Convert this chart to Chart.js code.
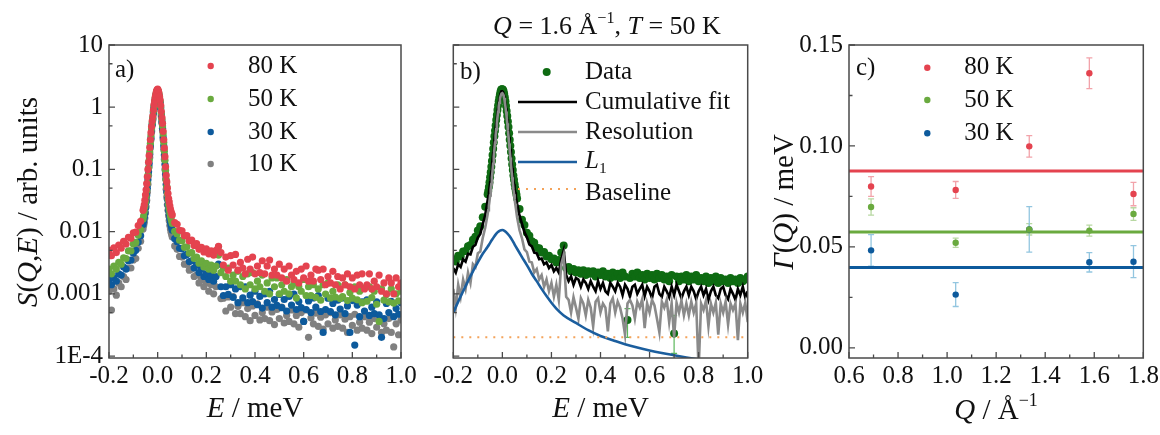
<!DOCTYPE html>
<html><head><meta charset="utf-8">
<script src="https://cdn.jsdelivr.net/npm/chart.js@4.4.1/dist/chart.umd.min.js"></script>
<style>
html,body{margin:0;padding:0;background:#fff;}
#wrap{position:relative;width:1160px;height:435px;overflow:hidden;background:#fff;}
canvas{position:absolute;top:0;}
</style></head><body>
<div id="wrap">
<canvas id="ca" width="430" height="435" style="left:0px"></canvas>
<canvas id="cb" width="370" height="435" style="left:415px"></canvas>
<canvas id="cc" width="400" height="435" style="left:760px"></canvas>
</div>
<script>
// ---------------- DATA ----------------
const energy = [
-0.20,-0.19,-0.18,-0.17,-0.16,-0.15,-0.14,-0.13,-0.12,-0.11,-0.10,-0.09,-0.08,-0.07,-0.06,
-0.0575,-0.055,-0.0525,-0.05,-0.0475,-0.045,-0.0425,-0.04,-0.0375,-0.035,-0.0325,-0.03,-0.0275,-0.025,-0.0225,-0.02,-0.0175,-0.015,-0.0125,-0.01,-0.0075,-0.005,-0.0025,
0,0.0025,0.005,0.0075,0.01,0.0125,0.015,0.0175,0.02,0.0225,0.025,0.0275,0.03,0.0325,0.035,0.0375,0.04,0.0425,0.045,0.0475,0.05,0.0525,0.055,0.0575,
0.06,0.07,0.08,0.09,0.10,0.11,0.12,0.13,0.14,0.15,
0.16,0.17,0.18,0.19,0.20,0.21,0.22,0.23,0.24,0.25,
0.26,0.27,0.28,0.29,0.30,0.31,0.32,0.33,0.34,0.35,
0.36,0.37,0.38,0.39,0.40,0.41,0.42,0.43,0.44,0.45,
0.46,0.47,0.48,0.49,0.50,0.51,0.52,0.53,0.54,0.55,
0.56,0.57,0.58,0.59,0.60,0.61,0.62,0.63,0.64,0.65,
0.66,0.67,0.68,0.69,0.70,0.71,0.72,0.73,0.74,0.75,
0.76,0.77,0.78,0.79,0.80,0.81,0.82,0.83,0.84,0.85,
0.86,0.87,0.88,0.89,0.90,0.91,0.92,0.93,0.94,0.95,
0.96,0.97,0.98,0.99,1.00];

const tempLabels = ['80 K','50 K','30 K','10 K'];

// panel a) S(Q,E) at four temperatures
const a80 = [
0.0050,0.0041,0.0055,0.0046,0.0061,0.0054,0.0070,0.0063,0.0081,0.0078,0.0096,0.0098,0.0125,0.0146,0.022,
0.024,0.027,0.032,0.039,0.047,0.059,0.076,0.10,0.13,0.166,0.225,0.30,0.39,0.49,0.6,0.72,0.9,1.1,1.27,1.45,1.63,1.8,1.9,
1.95,1.85,1.7,1.5,1.3,1.07,0.85,0.68,0.55,0.41,0.30,0.22,0.16,0.11,0.08,0.063,0.05,0.041,0.034,0.03,0.026,0.023,0.021,0.0195,
0.0185,0.0140,0.0131,0.0105,0.0103,0.0086,0.0086,0.0071,0.0073,0.0060,
0.0064,0.0052,0.0056,0.0047,0.0053,0.0044,0.0049,0.0042,0.0050,0.0058,
0.0046,0.0029,0.0039,0.0024,0.0041,0.0029,0.0043,0.0024,0.0032,0.0026,
0.0021,0.0036,0.0025,0.0039,0.0021,0.0028,0.0022,0.0034,0.0021,0.0028,
0.0035,0.0020,0.0025,0.0020,0.0030,0.0018,0.0025,0.0016,0.0028,0.0020,
0.0017,0.0023,0.0015,0.0025,0.0018,0.0028,0.0016,0.0020,0.0016,0.0025,
0.0024,0.0017,0.0025,0.0014,0.0019,0.0015,0.0023,0.0014,0.0019,0.0012,
0.0018,0.0014,0.0021,0.0013,0.0018,0.0012,0.0020,0.0014,0.0021,0.0012,
0.0014,0.0021,0.0012,0.0016,0.0013,0.0020,0.0011,0.0015,0.0010,0.0018,
0.0015,0.0010,0.0018,0.0013,0.0015];
const a50 = [
0.0025,0.0021,0.0028,0.0025,0.0032,0.0030,0.0038,0.0037,0.0049,0.0049,0.0063,0.0067,0.0088,0.0107,0.016,
0.018,0.021,0.025,0.030,0.037,0.046,0.06,0.080,0.105,0.14,0.19,0.26,0.35,0.45,0.56,0.68,0.86,1.05,1.22,1.4,1.58,1.75,1.85,
1.9,1.8,1.65,1.45,1.25,1.02,0.80,0.64,0.50,0.37,0.27,0.195,0.14,0.097,0.068,0.053,0.041,0.033,0.027,0.023,0.020,0.018,0.016,0.0148,
0.0135,0.0101,0.0092,0.0073,0.0071,0.0056,0.0057,0.0045,0.0046,0.0037,
0.0039,0.0031,0.0034,0.0027,0.0031,0.0025,0.0029,0.0024,0.0028,0.0042,
0.0022,0.0026,0.0019,0.0026,0.0016,0.0020,0.0016,0.0023,0.0014,0.0019,
0.0012,0.0021,0.0014,0.0022,0.0012,0.0016,0.0013,0.0020,0.0011,0.0015,
0.0010,0.0018,0.0013,0.0018,0.0010,0.0014,0.0011,0.0017,0.0010,0.0013,
0.0015,0.00086,0.0013,0.0011,0.0017,0.00094,0.0013,0.00094,0.0014,0.00088,
0.0012,0.00079,0.0014,0.00099,0.0015,0.00086,0.0011,0.00089,0.0014,0.00084,
0.0009,0.0014,0.00078,0.00105,0.00085,0.0013,0.0008,0.0011,0.00072,0.00125,
0.00076,0.0013,0.00087,0.0011,0.00068,0.00036,0.0012,0.00079,0.00098,0.00074,
0.0012,0.00071,0.0010,0.00077,0.0011];
const a30 = [
0.0017,0.0014,0.0018,0.0016,0.0021,0.0020,0.0027,0.0025,0.0034,0.0035,0.0045,0.0050,0.0068,0.0086,0.013,
0.015,0.017,0.02,0.024,0.03,0.038,0.05,0.068,0.092,0.125,0.175,0.24,0.32,0.42,0.53,0.65,0.82,1.0,1.17,1.35,1.53,1.7,1.8,
1.85,1.75,1.6,1.4,1.2,0.97,0.75,0.59,0.46,0.33,0.24,0.17,0.12,0.083,0.057,0.043,0.033,0.027,0.022,0.019,0.016,0.014,0.0125,0.0115,
0.0105,0.0077,0.0069,0.0054,0.0053,0.0041,0.0043,0.0033,0.0034,0.0026,
0.0029,0.0022,0.0025,0.0019,0.0021,0.0017,0.0020,0.0016,0.0019,0.0030,
0.0013,0.00094,0.0013,0.00098,0.0014,0.00088,0.0012,0.00072,0.0013,0.00086,
0.0013,0.00072,0.00095,0.00075,0.0011,0.00067,0.00091,0.00059,0.0010,0.00072,
0.0011,0.00061,0.00081,0.00065,0.00098,0.0006,0.00081,0.00053,0.00091,0.00066,
0.00099,0.00056,0.00075,0.0006,0.00036,0.00056,0.00077,0.0005,0.00086,0.00061,
0.00094,0.00052,0.00024,0.00056,0.00085,0.00052,0.0007,0.00046,0.00079,0.00057,
0.00086,0.00048,0.00064,0.00024,0.00078,0.00015,0.00066,0.00043,0.00074,0.00053,
0.0008,0.00045,0.00061,0.00048,0.00074,0.00046,0.0002,0.0004,0.0007,0.0005,
0.00076,0.00043,0.00058,0.00047,0.00072];
const a10 = [
0.0011,0.00055,0.0012,0.00095,0.0015,0.0013,0.0019,0.0017,0.0026,0.0026,0.0035,0.0037,0.0054,0.0070,0.011,
0.0125,0.014,0.0165,0.020,0.025,0.032,0.043,0.058,0.08,0.11,0.155,0.22,0.3,0.40,0.51,0.62,0.78,0.95,1.12,1.3,1.48,1.65,1.75,
1.8,1.7,1.55,1.35,1.15,0.9,0.70,0.55,0.42,0.3,0.21,0.145,0.10,0.07,0.048,0.036,0.027,0.022,0.018,0.015,0.0125,0.011,0.0098,0.009,
0.0082,0.0059,0.0052,0.0040,0.0039,0.0030,0.0030,0.0024,0.0025,0.0019,
0.0020,0.0015,0.0017,0.0013,0.0015,0.0011,0.0014,0.0010,0.0013,0.0057,
0.00084,0.00085,0.00053,0.00089,0.00061,0.0009,0.00048,0.00063,0.00048,0.00072,
0.00043,0.00058,0.00037,0.00064,0.00045,0.00069,0.00038,0.0005,0.0004,0.00061,
0.00037,0.00051,0.00032,0.00056,0.0004,0.00061,0.00034,0.00045,0.00036,0.00055,
0.00033,0.00045,0.00029,0.0005,0.00036,0.00055,0.0002,0.00041,0.00033,0.00049,
0.0003,0.00042,0.00027,0.00046,0.00033,0.0005,0.00028,0.00038,0.0003,0.00046,
0.00028,0.00039,0.00024,0.00043,0.00031,0.00047,0.00026,0.00035,0.00028,0.00043,
0.00026,0.00035,0.00023,0.0004,0.00029,0.00043,0.00024,0.00033,0.00026,0.0004,
0.00024,0.00014,0.00033,0.00022,0.00038];

// panel b) Q = 1.6, T = 50 K
const bLabels = ['Data','Cumulative fit','Resolution','L1','Baseline'];
const bData = [
0.0036,0.0033,0.0041,0.0040,0.0048,0.0049,0.0058,0.0061,0.0074,0.0083,0.0104,0.0122,0.017,0.025,0.040,
0.045,0.052,0.062,0.075,0.09,0.11,0.137,0.17,0.215,0.27,0.34,0.42,0.51,0.62,0.75,0.9,1.07,1.25,1.42,1.6,1.77,1.9,1.95,
1.95,1.9,1.8,1.63,1.45,1.25,1.05,0.87,0.72,0.59,0.48,0.38,0.30,0.24,0.19,0.15,0.12,0.098,0.08,0.068,0.058,0.05,0.044,0.039,
0.034,0.023,0.0155,0.0128,0.0096,0.0086,0.0070,0.0066,0.0055,0.0054,
0.0046,0.0047,0.0040,0.0041,0.0036,0.0037,0.0032,0.0035,0.0046,0.0060,
0.0026,0.0027,0.0023,0.0025,0.0022,0.0024,0.0021,0.0024,0.0020,0.0023,
0.0021,0.0023,0.0019,0.0022,0.0020,0.0023,0.0019,0.0021,0.0018,0.0022,
0.0019,0.0021,0.0018,0.0022,0.0019,0.00038,0.0018,0.0021,0.0019,0.0022,
0.0018,0.0020,0.0017,0.0021,0.0018,0.0020,0.0017,0.0021,0.0018,0.0020,
0.0017,0.0019,0.0016,0.0020,0.00023,0.0019,0.0016,0.0019,0.0017,0.0020,
0.0016,0.0019,0.0017,0.0020,0.0016,0.0018,0.0016,0.0019,0.0015,0.0018,
0.0016,0.0019,0.0015,0.0018,0.0016,0.0017,0.0015,0.0018,0.0016,0.0017,
0.0015,0.0018,0.0016,0.0017,0.0019];
const bFit = [
0.0026,0.0022,0.0030,0.0027,0.0036,0.0033,0.0044,0.0043,0.0057,0.0061,0.0080,0.0092,0.0132,0.0185,0.032,
0.037,0.043,0.051,0.062,0.075,0.092,0.115,0.145,0.183,0.23,0.29,0.37,0.455,0.56,0.68,0.82,0.98,1.15,1.33,1.5,1.64,1.75,1.8,
1.8,1.75,1.65,1.5,1.32,1.13,0.95,0.78,0.64,0.52,0.42,0.33,0.26,0.21,0.165,0.13,0.105,0.085,0.069,0.058,0.05,0.043,0.037,0.032,
0.028,0.0180,0.0133,0.0098,0.0081,0.0062,0.0058,0.0046,0.0045,0.0036,
0.0037,0.0030,0.0032,0.0026,0.0029,0.0023,0.0026,0.0022,0.0036,0.0050,
0.0020,0.0016,0.0019,0.0014,0.0018,0.0017,0.0013,0.0017,0.0015,0.0012,
0.0016,0.0013,0.0011,0.0016,0.0012,0.0015,0.0011,0.0010,0.0015,0.0013,
0.0011,0.0015,0.0013,0.00095,0.0014,0.0012,0.0009,0.0013,0.0014,0.0010,
0.0012,0.0014,0.00092,0.0013,0.0011,0.00085,0.0013,0.0014,0.0010,0.0009,
0.0013,0.0011,0.00088,0.0013,0.00095,0.0014,0.0011,0.00085,0.0011,0.0013,
0.00095,0.0013,0.0011,0.00082,0.0011,0.0013,0.00095,0.0012,0.0008,0.0011,
0.0013,0.00095,0.00085,0.0012,0.0013,0.00095,0.00082,0.0012,0.0010,0.0008,
0.0012,0.00095,0.0013,0.00088,0.0011];
const bRes = [
0.0012,0.0006,0.0014,0.0009,0.0017,0.0012,0.0022,0.0015,0.0030,0.0027,0.0045,0.0048,0.0079,0.0115,0.019,
0.022,0.026,0.031,0.038,0.047,0.058,0.074,0.095,0.123,0.16,0.21,0.27,0.35,0.44,0.55,0.68,0.84,1.0,1.18,1.35,1.5,1.6,1.66,
1.68,1.64,1.55,1.4,1.2,1.02,0.85,0.69,0.55,0.43,0.34,0.26,0.2,0.155,0.12,0.095,0.075,0.06,0.048,0.04,0.033,0.028,0.024,0.02,
0.017,0.0105,0.0078,0.0052,0.0047,0.0033,0.0032,0.0022,0.0025,0.0017,
0.0020,0.0013,0.0017,0.0011,0.0015,0.0009,0.0014,0.0008,0.0030,0.0042,
0.0009,0.0008,0.0005,0.00088,0.0006,0.0004,0.00085,0.0007,0.00045,0.0008,
0.0006,0.0003,0.00075,0.00085,0.0005,0.0007,0.0006,0.00025,0.0007,0.00085,
0.0005,0.00075,0.0006,0.0004,0.00022,0.0007,0.0008,0.00065,0.0004,0.00075,
0.0006,0.00082,0.00028,0.0007,0.0005,0.0008,0.00065,0.0004,0.00024,0.00075,
0.0006,0.0008,0.00035,0.0007,0.0002,0.00072,0.0005,0.00078,0.00045,0.0007,
0.00045,0.00075,0.0005,0.0007,0.00006,0.0007,0.00055,0.00078,0.0003,0.0007,
0.0005,0.00072,0.00022,0.0007,0.0005,0.00075,0.00032,0.0007,0.00055,0.0007,
0.00018,0.0007,0.0005,0.00072,0.00035];
const l1Energy = [-0.20,-0.18,-0.16,-0.14,-0.12,-0.10,-0.08,-0.06,-0.05,-0.04,-0.03,-0.02,-0.01,0,
0.01,0.02,0.03,0.04,0.05,0.06,0.08,0.10,0.12,0.14,0.16,0.18,0.20,0.22,0.25,0.30,0.35,0.40,0.45,0.50,
0.55,0.60,0.65,0.70,0.75,0.80,0.85,0.90,0.95,1.00];
const l1Values = [0.0005,0.00075,0.0011,0.0016,0.0023,0.0032,0.0044,0.0057,0.0066,0.0076,0.0087,0.0097,0.0104,0.0106,
0.0102,0.0094,0.0084,0.0073,0.0062,0.0053,0.0039,0.0029,0.0021,0.0016,0.0012,0.00092,0.00072,0.00058,0.00045,0.00034,0.00026,0.00021,0.00018,0.000155,
0.000137,0.000123,0.000112,0.000103,0.000095,0.000088,0.000082,0.000077,0.000072,0.000068];
const baseEnergy = [-0.2, 1.0];
const baseValues = [0.0002, 0.0002];
const bErrEnergy = [0.51, 0.70];
const bErrLow = [0.0002, 0.00011];
const bErrHigh = [0.00058, 0.00045];

// panel c) Gamma(Q)
const cQ = [0.69, 1.035, 1.335, 1.58, 1.76];
const c80 = [0.0799, 0.0782, 0.0998, 0.1360, 0.0762];
const c80err = [0.0049, 0.0042, 0.0053, 0.0076, 0.0058];
const c50 = [0.0698, 0.0521, 0.0587, 0.0581, 0.0663];
const c50err = [0.0040, 0.0023, 0.0028, 0.0027, 0.0031];
const c30 = [0.0483, 0.0264, 0.0587, 0.0424, 0.0427];
const c30err = [0.0078, 0.0059, 0.0113, 0.0048, 0.0079];
const cTempLabels = ['80 K','50 K','30 K'];
const cMeanGamma = [0.0876, 0.0574, 0.0398];

// ticks
const eTicks = [-0.2, 0, 0.2, 0.4, 0.6, 0.8, 1.0];
const eMinor = [-0.1, 0.1, 0.3, 0.5, 0.7, 0.9];
const sTicks = [1e-4, 1e-3, 1e-2, 1e-1, 1, 10];
const sTickLabels = ['1E-4', '0.001', '0.01', '0.1', '1', '10'];
const sMinor = [5e-4, 5e-3, 5e-2, 0.5, 5];
const qTicks = [0.6, 0.8, 1.0, 1.2, 1.4, 1.6, 1.8];
const qMinor = [0.7, 0.9, 1.1, 1.3, 1.5, 1.7];
const gTicks = [0, 0.05, 0.10, 0.15];
const gMinor = [0.025, 0.075, 0.125];

[a80, a50, a30, a10, bData, bFit, bRes].forEach((arr, k) => {
  if (arr.length !== energy.length) throw new Error('length mismatch ' + k + ': ' + arr.length + ' vs ' + energy.length);
});

// ---------------- STYLE ----------------
const FONT = "'Liberation Serif','Times New Roman',serif";
const AXIS = '#4a4a4a';
const TXT = '#111';
const COL = { r: '#e4434f', g: '#6aaa3f', b: '#0d5a9c', k: '#808080' };
Chart.defaults.font.family = FONT;
Chart.defaults.color = TXT;

function pts(xs, ys) { return xs.map((x, i) => ({ x: x, y: ys[i] })); }

function richText(ctx, segs, x, y, size, align, rot) {
  ctx.save();
  ctx.translate(x, y);
  ctx.rotate(rot || 0);
  ctx.fillStyle = TXT;
  ctx.textBaseline = 'middle';
  ctx.textAlign = 'left';
  const parts = segs.map(s => {
    const st = (s[1] || '').split(' ');
    const small = st.includes('sup') || st.includes('sub');
    const sz = small ? size * 0.62 : size;
    const f = (st.includes('i') ? 'italic ' : '') + sz + 'px ' + FONT;
    ctx.font = f;
    return { t: s[0], f: f, w: ctx.measureText(s[0]).width,
             dy: st.includes('sup') ? -size * 0.32 : (st.includes('sub') ? size * 0.3 : 0) };
  });
  const total = parts.reduce((a, p) => a + p.w, 0);
  let cx = align === 'center' ? -total / 2 : (align === 'right' ? -total : 0);
  parts.forEach(p => { ctx.font = p.f; ctx.fillText(p.t, cx, p.dy); cx += p.w; });
  ctx.restore();
}

function decoPlugin(spec) {
  return {
    id: 'deco',
    afterDatasetsDraw(chart) {
      const ctx = chart.ctx, a = chart.chartArea, xs = chart.scales.x, ys = chart.scales.y;
      ctx.save();
      ctx.strokeStyle = AXIS;
      ctx.lineWidth = 1.3;
      ctx.beginPath();
      const tick = (vals, len, horiz) => vals.forEach(v => {
        if (horiz) { const p = xs.getPixelForValue(v); ctx.moveTo(p, a.bottom); ctx.lineTo(p, a.bottom - len); }
        else { const p = ys.getPixelForValue(v); ctx.moveTo(a.left, p); ctx.lineTo(a.left + len, p); }
      });
      tick(spec.xMajor, 6, true); tick(spec.xMinor, 3.5, true);
      tick(spec.yMajor, 6, false); tick(spec.yMinor, 3.5, false);
      ctx.stroke();
      ctx.lineWidth = 1.5;
      ctx.strokeRect(a.left, a.top, a.right - a.left, a.bottom - a.top);
      ctx.restore();
      if (spec.draw) spec.draw(chart, ctx);
    }
  };
}

const errorBars = {
  id: 'errorBars',
  beforeDatasetsDraw(chart) {
    const ctx = chart.ctx, xs = chart.scales.x, ys = chart.scales.y;
    chart.data.datasets.forEach(ds => {
      if (!ds.errValues) return;
      ctx.save();
      ctx.strokeStyle = ds.errorColor;
      ctx.lineWidth = 1.3;
      ctx.beginPath();
      ds.data.forEach((p, j) => {
        const x = xs.getPixelForValue(p.x);
        const y1 = ys.getPixelForValue(p.y - ds.errValues[j]);
        const y2 = ys.getPixelForValue(p.y + ds.errValues[j]);
        ctx.moveTo(x, y1); ctx.lineTo(x, y2);
        ctx.moveTo(x - 3, y1); ctx.lineTo(x + 3, y1);
        ctx.moveTo(x - 3, y2); ctx.lineTo(x + 3, y2);
      });
      ctx.stroke();
      ctx.restore();
    });
  }
};

function axes(o) {
  return {
    x: {
      type: 'linear', min: o.xmin, max: o.xmax,
      grid: { display: false, drawTicks: false }, border: { display: false },
      ticks: { font: { size: 25, family: FONT }, color: TXT, padding: o.xpad, autoSkip: false, maxRotation: 0, minRotation: 0,
               callback: o.xcb },
      afterBuildTicks: s => { s.ticks = o.xticks.map(v => ({ value: v })); },
      afterFit: s => { s.height = 435 - 358; s.paddingLeft = 0; s.paddingRight = 0; }
    },
    y: {
      type: o.ylog ? 'logarithmic' : 'linear', min: o.ymin, max: o.ymax,
      grid: { display: false, drawTicks: false }, border: { display: false },
      ticks: { display: o.ylabels, font: { size: 25, family: FONT }, color: TXT, padding: 6, autoSkip: false,
               callback: o.ycb },
      afterBuildTicks: s => { s.ticks = o.yticks.map(v => ({ value: v })); },
      afterFit: s => { s.width = o.ywidth; s.paddingTop = 0; s.paddingBottom = 0; }
    }
  };
}

function baseOpts(padRight, sc) {
  return {
    responsive: false, animation: false, devicePixelRatio: 1,
    layout: { padding: { left: 0, right: padRight, top: 45, bottom: 0 } },
    plugins: { legend: { display: false }, tooltip: { enabled: false } },
    scales: sc
  };
}

// ---------------- PANEL A ----------------
const aSeries = [a80, a50, a30, a10];
const aColors = [COL.r, COL.g, COL.b, COL.k];
new Chart(document.getElementById('ca'), {
  type: 'scatter',
  data: {
    datasets: aSeries.map((arr, i) => ({
      label: tempLabels[i], data: pts(energy, arr),
      backgroundColor: aColors[i], borderWidth: 0, pointRadius: 3.6, pointHoverRadius: 3.6
    }))
  },
  options: baseOpts(29, axes({
    xmin: -0.2, xmax: 1.0, xticks: eTicks, xpad: 3, xcb: v => v.toFixed(1),
    ylog: true, ymin: 9.3e-5, ymax: 10, yticks: sTicks, ylabels: true, ywidth: 109,
    ycb: (v, i) => sTickLabels[i]
  })),
  plugins: [decoPlugin({
    xMajor: eTicks, xMinor: eMinor, yMajor: sTicks, yMinor: sMinor,
    draw(chart, ctx) {
      ctx.save();
      ctx.font = '25px ' + FONT; ctx.fillStyle = TXT; ctx.textBaseline = 'middle'; ctx.textAlign = 'left';
      ctx.fillText('a)', 115, 70);
      const ly = [66, 99, 132, 164];
      chart.data.datasets.forEach((ds, i) => {
        ctx.fillStyle = ds.backgroundColor;
        ctx.beginPath(); ctx.arc(210.7, ly[i], 3.2, 0, Math.PI * 2); ctx.fill();
        ctx.fillStyle = TXT; ctx.fillText(ds.label, 248, ly[i]);
      });
      ctx.restore();
      richText(ctx, [['S', 'i'], ['(', ''], ['Q', 'i'], [',', ''], ['E', 'i'], [') / arb. units', '']], 29, 202, 29, 'center', -Math.PI / 2);
      richText(ctx, [['E', 'i'], [' / meV', '']], 255, 409, 29, 'center', 0);
    }
  })]
});

// ---------------- PANEL B ----------------
new Chart(document.getElementById('cb'), {
  type: 'scatter',
  data: {
    datasets: [
      { label: bLabels[4], data: pts(baseEnergy, baseValues), showLine: true, borderColor: '#f4a35a',
        borderWidth: 2, borderDash: [2, 6], pointRadius: 0, order: 1 },
      { label: bLabels[3], data: pts(l1Energy, l1Values), showLine: true, borderColor: '#1b5e9e',
        borderWidth: 2.6, pointRadius: 0, cubicInterpolationMode: 'monotone', order: 2 },
      { label: bLabels[2], data: pts(energy, bRes), showLine: true, borderColor: '#8a8a8a',
        borderWidth: 2.6, pointRadius: 0, order: 3 },
      { label: bLabels[1], data: pts(energy, bFit), showLine: true, borderColor: '#000',
        borderWidth: 2.6, pointRadius: 0, order: 4 },
      { label: bLabels[0], data: pts(energy, bData), backgroundColor: '#0e6b12', borderWidth: 0,
        pointRadius: 4, pointHoverRadius: 4, order: 5 }
    ]
  },
  options: baseOpts(370 - 332.7, axes({
    xmin: -0.2, xmax: 1.0, xticks: eTicks, xpad: 3, xcb: v => v.toFixed(1),
    ylog: true, ymin: 9.3e-5, ymax: 10, yticks: sTicks, ylabels: false, ywidth: 38.3,
    ycb: () => ''
  })),
  plugins: [{
    id: 'bErr',
    beforeDatasetsDraw(chart) {
      const ctx = chart.ctx, xs = chart.scales.x, ys = chart.scales.y;
      ctx.save(); ctx.strokeStyle = '#5cb85c'; ctx.lineWidth = 1.2; ctx.beginPath();
      bErrEnergy.forEach((e, j) => {
        const x = xs.getPixelForValue(e), y1 = ys.getPixelForValue(bErrLow[j]), y2 = ys.getPixelForValue(bErrHigh[j]);
        ctx.moveTo(x, y1); ctx.lineTo(x, y2);
        ctx.moveTo(x - 3, y1); ctx.lineTo(x + 3, y1);
        ctx.moveTo(x - 3, y2); ctx.lineTo(x + 3, y2);
      });
      ctx.stroke(); ctx.restore();
    }
  }, decoPlugin({
    xMajor: eTicks, xMinor: eMinor, yMajor: sTicks, yMinor: sMinor,
    draw(chart, ctx) {
      const ds = chart.data.datasets;
      ctx.save();
      ctx.font = '25px ' + FONT; ctx.fillStyle = TXT; ctx.textBaseline = 'middle'; ctx.textAlign = 'left';
      ctx.fillText('b)', 45, 72);
      ctx.fillStyle = ds[4].backgroundColor;
      ctx.beginPath(); ctx.arc(131.7, 72, 4, 0, Math.PI * 2); ctx.fill();
      ctx.fillStyle = TXT; ctx.fillText(ds[4].label, 170, 72);
      const line = (y, d) => {
        ctx.save(); ctx.strokeStyle = d.borderColor; ctx.lineWidth = d.borderWidth;
        if (d.borderDash) ctx.setLineDash(d.borderDash);
        ctx.beginPath(); ctx.moveTo(103, y); ctx.lineTo(162, y); ctx.stroke(); ctx.restore();
      };
      line(102, ds[3]); ctx.fillText(ds[3].label, 170, 102);
      line(132, ds[2]); ctx.fillText(ds[2].label, 170, 132);
      line(162, ds[1]);
      line(189, ds[0]); ctx.fillText(ds[0].label, 170, 193);
      ctx.restore();
      richText(ctx, [['L', 'i'], ['1', 'sub']], 170, 161, 25, 'left', 0);
      richText(ctx, [['E', 'i'], [' / meV', '']], 185.5, 409, 29, 'center', 0);
      richText(ctx, [['Q', 'i'], [' = 1.6 Å', ''], ['\u22121', 'sup'], [', ', ''], ['T', 'i'], [' = 50 K', '']], 192, 27, 26, 'center', 0);
    }
  })]
});

// ---------------- PANEL C ----------------
const cSeries = [c80, c50, c30];
const cErr = [c80err, c50err, c30err];
const cColors = [COL.r, COL.g, COL.b];
const cErrColors = ['#f2a3aa', '#b8d8a2', '#93c6e0'];
const cXRange = [qTicks[0], qTicks[qTicks.length - 1]];
new Chart(document.getElementById('cc'), {
  type: 'scatter',
  data: {
    datasets: cSeries.map((arr, i) => ({
      label: cTempLabels[i], data: pts(cQ, arr), errValues: cErr[i], errorColor: cErrColors[i],
      backgroundColor: cColors[i], borderWidth: 0, pointRadius: 3.2, pointHoverRadius: 3.2, order: 1 + i * 0.1
    })).concat(cMeanGamma.map((g, i) => ({
      label: cTempLabels[i] + ' mean', data: pts(cXRange, [g, g]), showLine: true,
      borderColor: cColors[i], borderWidth: 3, pointRadius: 0, order: 5
    })))
  },
  options: baseOpts(400 - 383.3, axes({
    xmin: 0.6, xmax: 1.8, xticks: qTicks, xpad: 3, xcb: v => v.toFixed(1),
    ylog: false, ymin: -0.005, ymax: 0.15, yticks: gTicks, ylabels: true, ywidth: 89,
    ycb: v => v.toFixed(2)
  })),
  plugins: [errorBars, decoPlugin({
    xMajor: qTicks, xMinor: qMinor, yMajor: gTicks, yMinor: gMinor,
    draw(chart, ctx) {
      ctx.save();
      ctx.font = '25px ' + FONT; ctx.fillStyle = TXT; ctx.textBaseline = 'middle'; ctx.textAlign = 'left';
      ctx.fillText('c)', 96, 68);
      const ly = [67.7, 100, 133.3];
      for (let i = 0; i < 3; i++) {
        const ds = chart.data.datasets[i];
        ctx.fillStyle = ds.backgroundColor;
        ctx.beginPath(); ctx.arc(167.3, ly[i], 3.2, 0, Math.PI * 2); ctx.fill();
        ctx.fillStyle = TXT; ctx.fillText(ds.label, 204.3, ly[i]);
      }
      ctx.restore();
      richText(ctx, [['\u0393', 'i'], ['(', ''], ['Q', 'i'], [') / meV', '']], 25, 202, 29, 'center', -Math.PI / 2);
      richText(ctx, [['Q', 'i'], [' / Å', ''], ['\u22121', 'sup']], 236, 411, 29, 'center', 0);
    }
  })]
});
</script>
</body></html>
